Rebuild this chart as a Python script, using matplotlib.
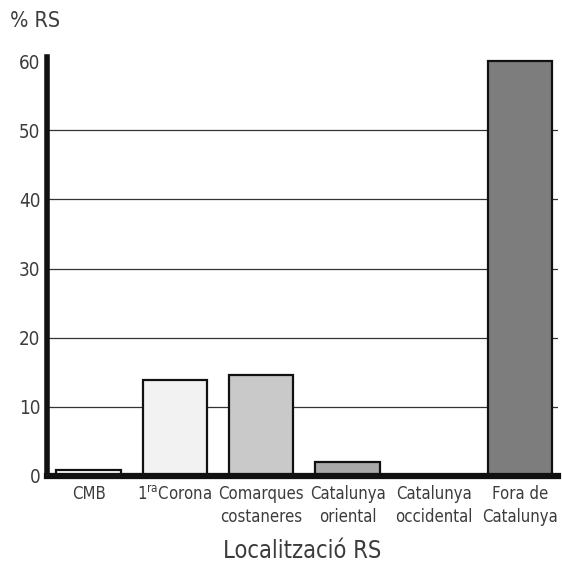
import matplotlib
matplotlib.use("Agg")
import matplotlib.pyplot as plt

plt.rcParams['font.family'] = ['DejaVu Sans']
plt.rcParams['font.stretch'] = 'condensed'

categories = ["CMB", "1$^{\\mathrm{ra}}$Corona", "Comarques\ncostaneres", "Catalunya\noriental",
              "Catalunya\noccidental", "Fora de\nCatalunya"]
values = [0.9, 13.9, 14.6, 2.0, 0.0, 60.0]
colors = ["#ffffff", "#f2f2f2", "#c9c9c9", "#a9a9a9", "#ffffff", "#7d7d7d"]
yticks = [0, 10, 20, 30, 40, 50, 60]

fig = plt.figure(figsize=(5.62, 5.65), dpi=100)
ax = fig.add_axes([0.084, 0.158, 0.909, 0.742])

for g in [10, 20, 30, 40, 50]:
    ax.axhline(g, color="#333333", lw=0.9, zorder=1)

x = list(range(len(categories)))
ax.bar(x, values, width=0.745, color=colors, edgecolor="#111111", linewidth=1.6, zorder=2)

ax.set_xlim(-0.48, 5.44)
ax.set_ylim(0, 60.7)
ax.set_yticks(yticks)
ax.set_yticklabels([str(v) for v in yticks], fontsize=13.5, color="#3c3c3c")
ax.set_xticks(x)
ax.set_xticklabels(categories, fontsize=12, color="#3c3c3c", linespacing=1.35)
ax.tick_params(length=0, pad=7)
ax.tick_params(axis='y', pad=5)

for s in ["top", "right"]:
    ax.spines[s].set_visible(False)
ax.spines["left"].set_linewidth(4)
ax.spines["bottom"].set_linewidth(4.5)
ax.spines["left"].set_color("#111111")
ax.spines["bottom"].set_color("#111111")

ax.set_xlabel("Localització RS", fontsize=17, color="#3c3c3c", labelpad=9)
fig.text(0.018, 0.963, "% RS", fontsize=15.5, color="#3c3c3c", ha="left", va="center")

fig.savefig("out.png", dpi=100)
